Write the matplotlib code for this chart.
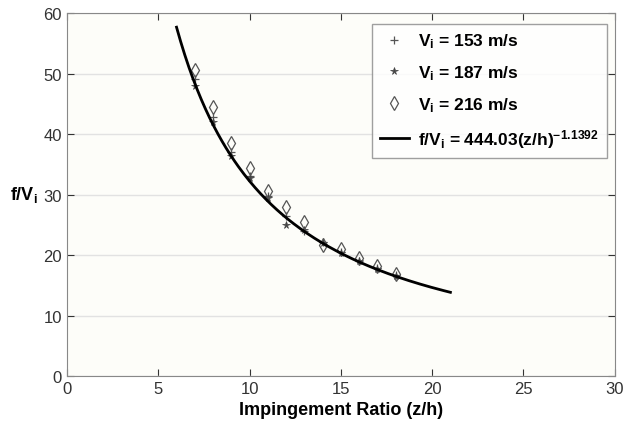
import numpy as np
import matplotlib.pyplot as plt

plt.rcParams['font.family'] = ['Liberation Sans', 'DejaVu Sans']
plt.rcParams['mathtext.fontset'] = 'custom'
plt.rcParams['mathtext.rm'] = 'Liberation Sans:bold'
plt.rcParams['mathtext.it'] = 'Liberation Sans:bold'
plt.rcParams['mathtext.bf'] = 'Liberation Sans:bold'
plt.rcParams['mathtext.default'] = 'bf'

# Measured data (impingement ratio vs f/Vi)
zh = [7, 8, 9, 10, 11, 12, 13, 14, 15, 16, 17, 18]
v153 = [49.1, 42.8, 37.1, 33.1, 29.7, 26.5, 24.0, 22.2, 20.5, 19.1, 17.8, 16.7]
v187 = [48.0, 42.0, 36.4, 32.7, 29.4, 25.0, 24.2, 22.0, 20.3, 19.0, 17.7, 16.6]
v216 = [50.6, 44.5, 38.6, 34.4, 30.6, 28.0, 25.5, 21.7, 21.0, 19.5, 18.2, 16.9]

# Power-law fit
coef = 444.03
expo = -1.1392
fit_x = np.linspace(6, 21, 200)
fit_y = coef * fit_x ** expo

fig, ax = plt.subplots(figsize=(6.26, 4.27), dpi=100)
fig.patch.set_facecolor('white')
ax.set_facecolor('#fdfdf9')
fig.subplots_adjust(left=0.107, right=0.982, bottom=0.117, top=0.967)

ax.plot(zh, v153, linestyle='none', marker='+', color='#555555', ms=6, mew=0.9,
        label='V$_i$ = 153 m/s')
ax.plot(zh, v187, linestyle='none', marker='*', color='#444444', ms=5.5, mew=0.5,
        label='V$_i$ = 187 m/s')
ax.plot(zh, v216, linestyle='none', marker='d', mfc='none', mec='#555555', ms=7.5, mew=0.9,
        label='V$_i$ = 216 m/s')
ax.plot(fit_x, fit_y, color='black', lw=2,
        label='f/V$_i$ = 444.03(z/h)$^{-1.1392}$')

ax.set_xlim(0, 30)
ax.set_ylim(0, 60)
ax.set_xticks(range(0, 31, 5))
ax.set_yticks(range(0, 61, 10))
ax.yaxis.grid(True, color='#e2e2e2', lw=1)
ax.set_axisbelow(True)
ax.tick_params(direction='in', top=True, right=True, labelsize=12, colors='#333333',
               length=5)
for s in ax.spines.values():
    s.set_color('#888888')

ax.set_xlabel('Impingement Ratio (z/h)', fontsize=13, fontweight='bold')
ax.set_ylabel('f/V$_i$', fontsize=13, fontweight='bold', rotation=0)
ax.yaxis.set_label_coords(-0.078, 0.475)

leg = ax.legend(loc='upper right', prop={'weight': 'bold', 'size': 12.5},
                fancybox=False, edgecolor='#888888', handlelength=1.7,
                borderpad=0.45, labelspacing=0.75, handletextpad=0.5,
                borderaxespad=0.0, bbox_to_anchor=(0.985, 0.97))
leg.get_frame().set_linewidth(1.0)

fig.savefig('out.png', dpi=100)
